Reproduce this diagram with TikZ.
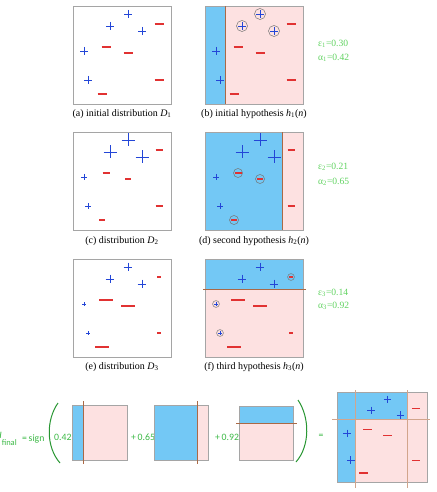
\documentclass[tikz,border=0pt]{standalone}
\usepackage{fontspec}
\setmainfont{Liberation Serif}
\newfontfamily\formfont{Carlito}
\definecolor{posblue}{RGB}{35,70,215}
\definecolor{negred}{RGB}{225,50,50}
\definecolor{regblue}{RGB}{115,200,245}
\definecolor{regpink}{RGB}{253,225,225}
\definecolor{boxgray}{RGB}{165,165,165}
\definecolor{splitbrown}{RGB}{170,105,70}
\definecolor{splitlight}{RGB}{210,165,140}
\definecolor{labgreen}{RGB}{95,210,95}
\definecolor{formgreen}{RGB}{60,185,70}
\definecolor{parengreen}{RGB}{40,150,50}
\tikzset{
  plusstroke/.style={draw=posblue,line width=0.95bp},
  minusstroke/.style={draw=negred,line width=1.1bp},
  pics/pluspt/.style={code={\draw[plusstroke] (-#1,0) -- (#1,0) (0,-#1) -- (0,#1);}},
  pics/minuspt/.style={code={\draw[minusstroke] (-#1,0) -- (#1,0);}},
  panel/.style={draw=boxgray,line width=0.8bp},
  ring/.style={draw=black!55,line width=0.5bp},
  splitline/.style={draw=splitbrown,line width=1bp},
  caption/.style={font=\fontsize{10}{12}\selectfont,inner sep=0pt},
  errlabel/.style={font=\fontsize{9.6}{11}\selectfont,text=labgreen,anchor=west,inner sep=0pt},
  formtext/.style={font=\formfont\fontsize{9.8}{11}\selectfont,text=formgreen,inner sep=0pt},
  paren/.style={draw=parengreen,line width=1bp},
}
% the ten training samples, relative to a 98 x 98 panel
\newcommand\drawpluses[5]{%
  \pic at (55,8) {pluspt=#1};
  \pic at (37,20) {pluspt=#2};
  \pic at (69,25) {pluspt=#3};
  \pic at (11,45) {pluspt=#4};
  \pic at (15,74) {pluspt=#5};}
\newcommand\drawminuses[5]{%
  \pic at (86,18) {minuspt=#1};
  \pic at (33,41) {minuspt=#2};
  \pic at (55,47) {minuspt=#3};
  \pic at (86,74) {minuspt=#4};
  \pic at (29,88) {minuspt=#5};}
\begin{document}
\begin{tikzpicture}[x=1bp,y=-1bp]
\useasboundingbox (0,0) rectangle (437,492);

% (a) initial distribution
\begin{scope}[shift={(73,6)}]
  \draw[panel] (0,0) rectangle (98,98);
  \drawpluses{4}{4}{4}{4}{4}
  \drawminuses{4.5}{4.5}{4.5}{4.5}{4.5}
\end{scope}
\node[caption] (capa) at (122,114) {(a) initial distribution \textit{D}\textsubscript{1}};

% (b) first hypothesis
\begin{scope}[shift={(205,6)}]
  \fill[regblue] (0,0) rectangle (20,98);
  \fill[regpink] (20,0) rectangle (98,98);
  \draw[panel] (0,0) rectangle (98,98);
  \draw[splitline] (20,0) -- (20,98);
  \draw[ring] (55,8) circle[radius=5.5] (37,20) circle[radius=5.5] (69,25) circle[radius=5.5];
  \drawpluses{4}{4}{4}{4}{4}
  \drawminuses{4.5}{4.5}{4.5}{4.5}{4.5}
\end{scope}
\node[caption] (capb) at (254,114) {(b) initial hypothesis \textit{h}\textsubscript{1}(\textit{n})};
\node[errlabel] (eps1) at (318,44) {ε\textsubscript{1}=0.30};
\node[errlabel] (alp1) at (318,58) {α\textsubscript{1}=0.42};

% (c) reweighted distribution
\begin{scope}[shift={(73,132)}]
  \draw[panel] (0,0) rectangle (98,98);
  \drawpluses{6.5}{6.5}{6.5}{3}{3}
  \drawminuses{3.5}{3.5}{3}{3.5}{3}
\end{scope}
\node[caption] (capc) at (122,241) {(c) distribution \textit{D}\textsubscript{2}};

% (d) second hypothesis
\begin{scope}[shift={(205,132)}]
  \fill[regblue] (0,0) rectangle (77,98);
  \fill[regpink] (77,0) rectangle (98,98);
  \draw[panel] (0,0) rectangle (98,98);
  \draw[splitline] (77,0) -- (77,98);
  \draw[ring] (33,41) circle[radius=4.5] (55,47) circle[radius=4.5] (29,88) circle[radius=4.5];
  \drawpluses{6.5}{6.5}{6.5}{3}{3}
  \drawminuses{3.5}{3.5}{3}{3.5}{3}
\end{scope}
\node[caption] (capd) at (254,241) {(d) second hypothesis \textit{h}\textsubscript{2}(\textit{n})};
\node[errlabel] (eps2) at (318,167) {ε\textsubscript{2}=0.21};
\node[errlabel] (alp2) at (318,182) {α\textsubscript{2}=0.65};

% (e) distribution after two rounds
\begin{scope}[shift={(73,259)}]
  \draw[panel] (0,0) rectangle (98,98);
  \drawpluses{4.3}{4.3}{4.3}{2}{2}
  \drawminuses{2}{7}{7}{2}{7}
\end{scope}
\node[caption] (cape) at (122,367) {(e) distribution \textit{D}\textsubscript{3}};

% (f) third hypothesis
\begin{scope}[shift={(205,259)}]
  \fill[regblue] (0,0) rectangle (98,30);
  \fill[regpink] (0,30) rectangle (98,98);
  \draw[panel] (0,0) rectangle (98,98);
  \draw[splitline] (-2,30) -- (101,30);
  \draw[ring] (86,18) circle[radius=3.4] (11,45) circle[radius=3.4] (15,74) circle[radius=3.4];
  \drawpluses{4.3}{4.3}{4.3}{2}{2}
  \drawminuses{2}{7}{7}{2}{7}
\end{scope}
\node[caption] (capf) at (254,367) {(f) third hypothesis \textit{h}\textsubscript{3}(\textit{n})};
\node[errlabel] (eps3) at (318,293) {ε\textsubscript{3}=0.14};
\node[errlabel] (alp3) at (318,306) {α\textsubscript{3}=0.92};

% weighted vote of the three hypotheses
\node[formtext,anchor=base west] (hfin) at (-4.5,438) {\textit{H}\raisebox{-7bp}{\fontsize{8.5}{9}\selectfont final}};
\node[formtext,anchor=base west] (sign) at (22,441) {=\,sign};
\draw[paren] (58,403) .. controls (46,420) and (46,447) .. (60,463);
\node[formtext,anchor=base west] (w1) at (54,440) {0.42};
\fill[regblue] (72,405) rectangle (83,460);
\fill[regpink] (83,405) rectangle (127,460);
\draw[panel] (72,405) rectangle (127,460);
\draw[splitline] (83,401) -- (83,464);
\node[formtext,anchor=base west] (w2) at (131,440) {+\,0.65};
\fill[regblue] (154,405) rectangle (197,460);
\fill[regpink] (197,405) rectangle (208,460);
\draw[panel] (154,405) rectangle (208,460);
\draw[splitline] (197,401) -- (197,464);
\node[formtext,anchor=base west] (w3) at (215,440) {+\,0.92};
\fill[regblue] (239,406) rectangle (293,423);
\fill[regpink] (239,423) rectangle (293,460);
\draw[panel] (239,406) rectangle (293,460);
\draw[splitline] (236,423) -- (297,423);
\draw[paren] (298,400) .. controls (310,418) and (310,446) .. (296,462);
\node[formtext] (eq) at (321,436) {=};

% combined classifier
\begin{scope}[shift={(337,392)},scale=0.92]
  \fill[regpink] (0,0) rectangle (98,98);
  \fill[regblue] (0,0) rectangle (20,98);
  \fill[regblue] (20,0) rectangle (77,30);
  \draw[panel] (0,0) rectangle (98,98);
  \draw[draw=splitlight,line width=0.7bp] (20,-2) -- (20,104) (77,-2) -- (77,104) (-5,30) -- (101,30);
  \drawpluses{3.8}{3.8}{3.8}{3.8}{3.8}
  \drawminuses{4.3}{4.3}{4.3}{4.3}{4.3}
\end{scope}
\end{tikzpicture}
\end{document}
